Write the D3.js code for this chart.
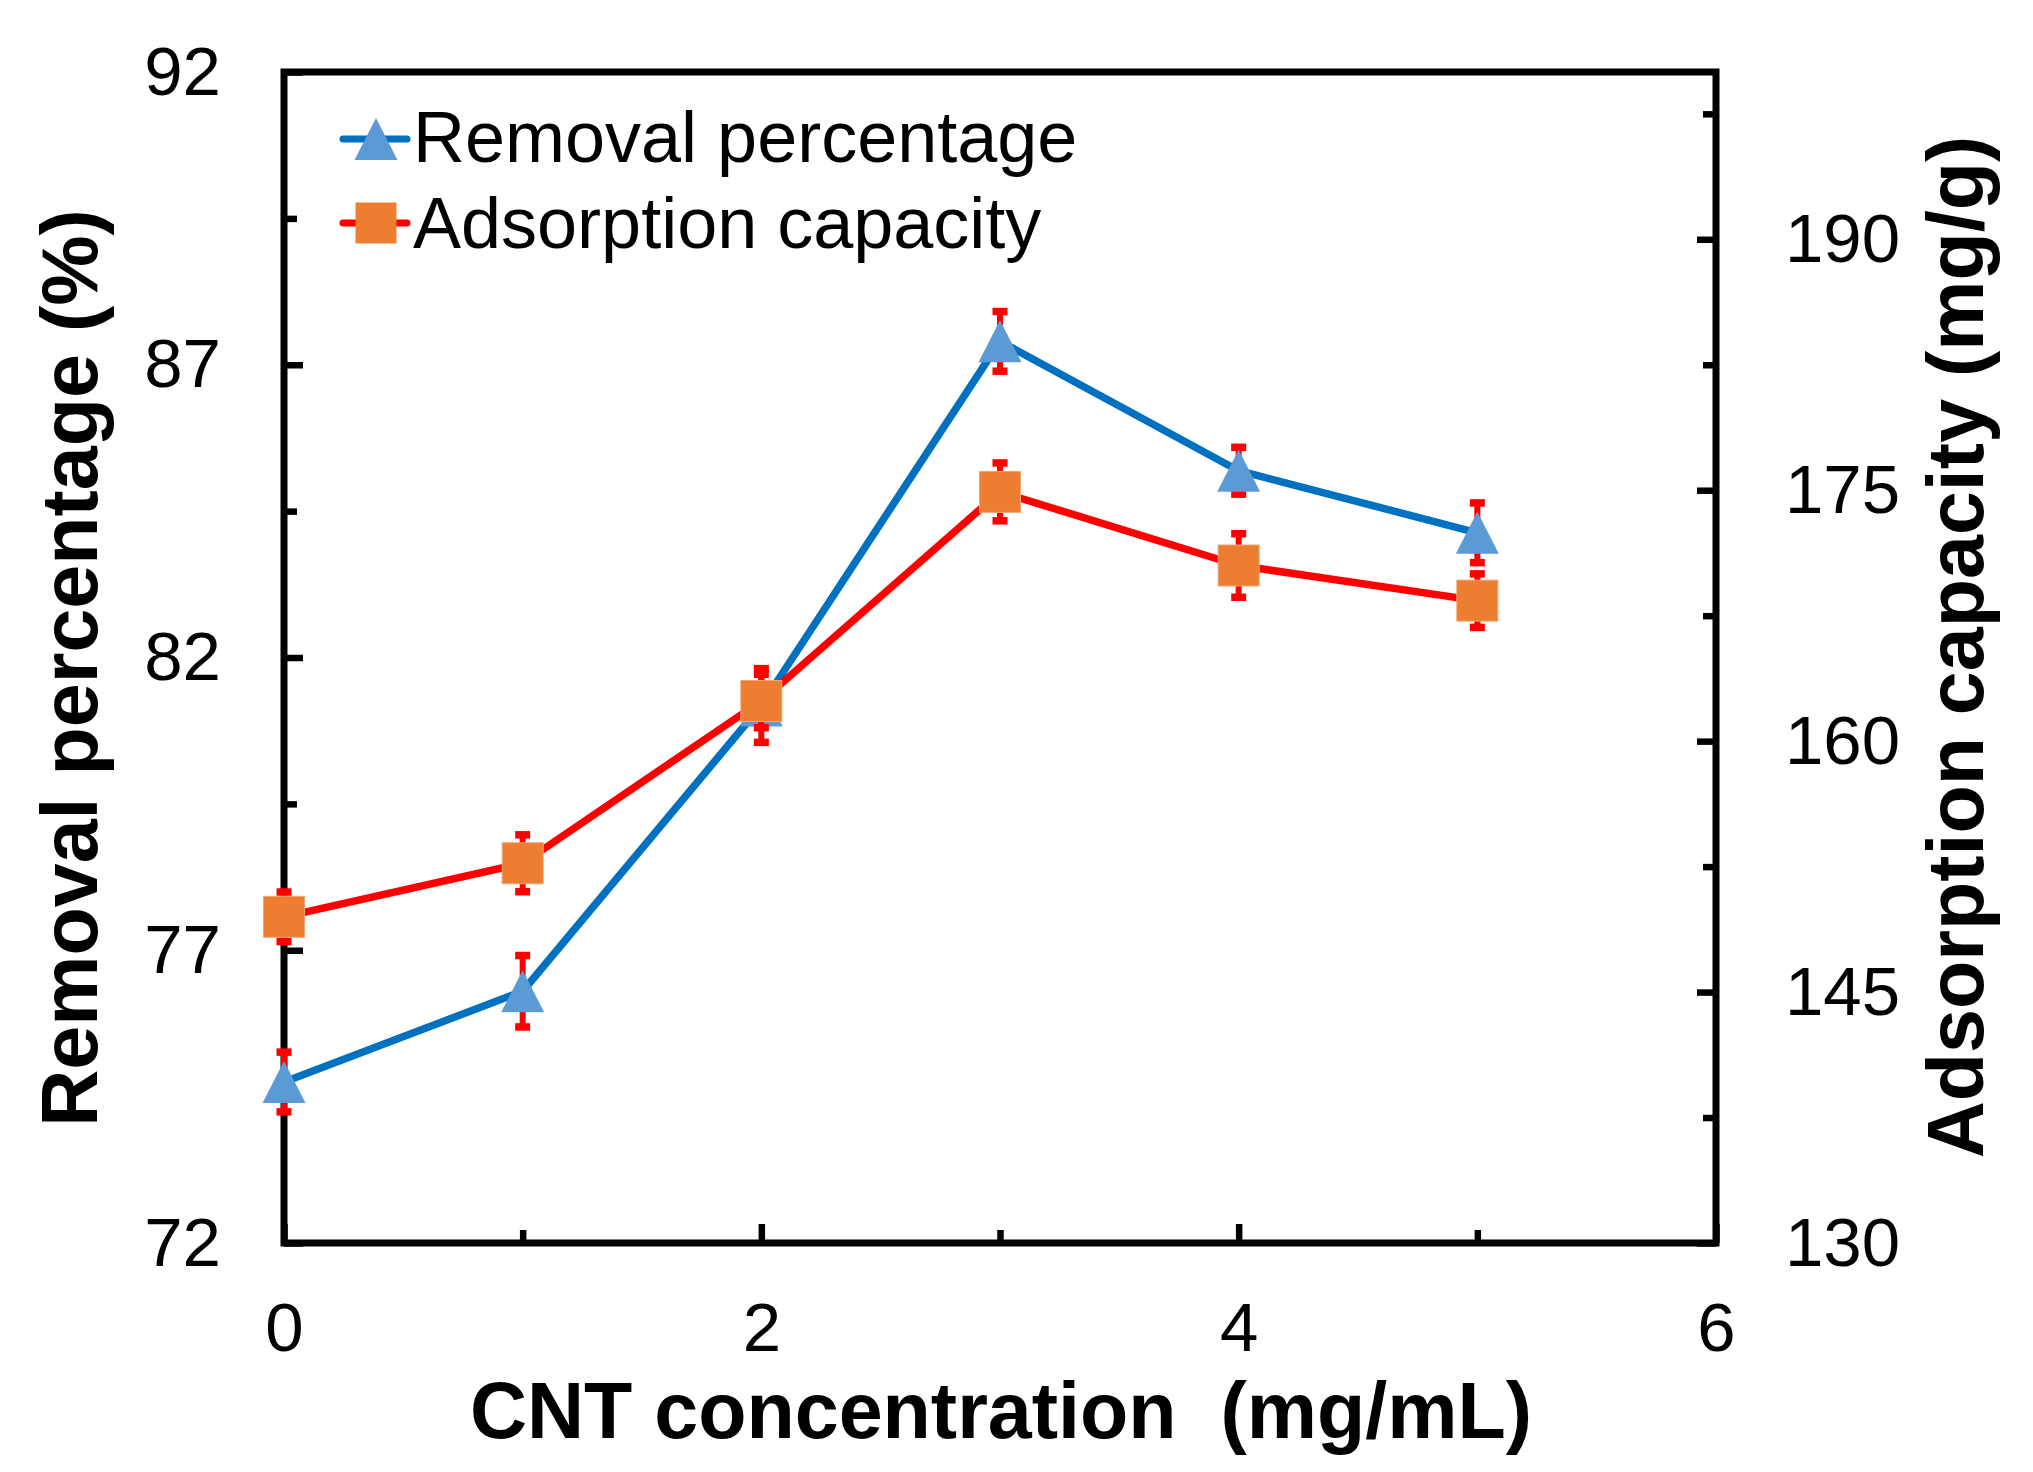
<!DOCTYPE html>
<html>
<head>
<meta charset="utf-8">
<script src="https://cdn.jsdelivr.net/npm/d3@7"></script>
<style>
  html, body { margin: 0; padding: 0; background: #fff; }
  svg { display: block; font-family: "Liberation Sans", Arial, sans-serif; }
</style>
</head>
<body>
<svg id="chart" width="2033" height="1472"></svg>
<script>
// ---- data ----
const concentration = [0, 1, 2, 3, 4, 5];
const removalPct = [74.75, 76.30, 81.18, 87.40, 85.19, 84.13];
const removalErr = [0.51, 0.61, 0.63, 0.51, 0.40, 0.51];
const adsorptionCap = [149.5, 152.7, 162.4, 174.9, 170.5, 168.4];
const adsorptionErr = [1.48, 1.70, 1.60, 1.73, 1.90, 1.60];

const xMajorTicks = [0, 2, 4, 6];
const xMinorTicks = [1, 3, 5];
const yLeftMajor = [72, 77, 82, 87, 92];
const yLeftMinor = [74.5, 79.5, 84.5, 89.5];
const yRightMajor = [130, 145, 160, 175, 190];
const yRightMinor = [137.5, 152.5, 167.5, 182.5, 197.5];

const seriesNames = ["Removal percentage", "Adsorption capacity"];
const xTitle = "CNT concentration\u00A0\u00A0(mg/mL)";
const yLeftTitle = "Removal percentage (%)";
const yRightTitle = "Adsorption capacity (mg/g)";

// ---- layout ----
const L = 284, R = 1716, T = 72, B = 1243;
const svg = d3.select("#chart");

const x = d3.scaleLinear().domain([0, 6]).range([L, R]);
const yL = d3.scaleLinear().domain([72, 92]).range([B, T]);
const yR = d3.scaleLinear().domain([130, 200]).range([B, T]);

const blueLine = "#0070C0", blueMarker = "#5B9BD5";
const redLine = "#FF0000", orangeMarker = "#ED7D31";

function styleAxis(g, fontSize) {
  g.select(".domain").remove();
  g.selectAll(".tick line").attr("stroke", "#000").attr("stroke-width", 6.5);
  g.selectAll(".tick text").attr("fill", "#000").style("font-size", fontSize + "px")
    .style("font-family", '"Liberation Sans", Arial, sans-serif');
}

// bottom axis
svg.append("g").attr("transform", `translate(0,${B})`)
  .call(d3.axisBottom(x).tickValues(xMajorTicks).tickSizeInner(-19).tickSizeOuter(0).tickPadding(59).tickFormat(d3.format("d")))
  .call(g => styleAxis(g, 69));
svg.append("g").attr("transform", `translate(0,${B})`)
  .call(d3.axisBottom(x).tickValues(xMinorTicks).tickSizeInner(-13).tickSizeOuter(0).tickFormat(""))
  .call(g => styleAxis(g, 69));

// left axis
svg.append("g").attr("transform", `translate(${L},0)`)
  .call(d3.axisLeft(yL).tickValues(yLeftMajor).tickSizeInner(-19).tickSizeOuter(0).tickPadding(63).tickFormat(d3.format("d")))
  .call(g => styleAxis(g, 69));
svg.append("g").attr("transform", `translate(${L},0)`)
  .call(d3.axisLeft(yL).tickValues(yLeftMinor).tickSizeInner(-13).tickSizeOuter(0).tickFormat(""))
  .call(g => styleAxis(g, 69));

// right axis
svg.append("g").attr("transform", `translate(${R},0)`)
  .call(d3.axisRight(yR).tickValues(yRightMajor).tickSizeInner(-19).tickSizeOuter(0).tickPadding(69).tickFormat(d3.format("d")))
  .call(g => styleAxis(g, 69));
svg.append("g").attr("transform", `translate(${R},0)`)
  .call(d3.axisRight(yR).tickValues(yRightMinor).tickSizeInner(-13).tickSizeOuter(0).tickFormat(""))
  .call(g => styleAxis(g, 69));

// frame
svg.append("rect").attr("x", L).attr("y", T).attr("width", R - L).attr("height", B - T)
  .attr("fill", "none").attr("stroke", "#000").attr("stroke-width", 7);

// ---- series ----
const triW = 43, triH = 42, sq = 41;
const triPath = `M0,${-triH / 2}L${triW / 2},${triH / 2}L${-triW / 2},${triH / 2}Z`;

function drawSeries(vals, errs, yScale, lineColor, markerColor, shape) {
  const pts = concentration.map((c, i) => ({ c, v: vals[i], e: errs[i] }));
  const g = svg.append("g");
  g.append("path").datum(pts)
    .attr("d", d3.line().x(d => x(d.c)).y(d => yScale(d.v)))
    .attr("fill", "none").attr("stroke", lineColor).attr("stroke-width", 7.5)
    .attr("stroke-linejoin", "round");
  // error bars
  const eb = g.selectAll(".eb").data(pts).enter().append("g");
  eb.append("line")
    .attr("x1", d => x(d.c)).attr("x2", d => x(d.c))
    .attr("y1", d => yScale(d.v - d.e)).attr("y2", d => yScale(d.v + d.e))
    .attr("stroke", "#FF0000").attr("stroke-width", 6);
  eb.append("line")
    .attr("x1", d => x(d.c) - 7.5).attr("x2", d => x(d.c) + 7.5)
    .attr("y1", d => yScale(d.v + d.e)).attr("y2", d => yScale(d.v + d.e))
    .attr("stroke", "#FF0000").attr("stroke-width", 7.5);
  eb.append("line")
    .attr("x1", d => x(d.c) - 7.5).attr("x2", d => x(d.c) + 7.5)
    .attr("y1", d => yScale(d.v - d.e)).attr("y2", d => yScale(d.v - d.e))
    .attr("stroke", "#FF0000").attr("stroke-width", 7.5);
  // markers
  if (shape === "tri") {
    g.selectAll(".m").data(pts).enter().append("path")
      .attr("d", triPath)
      .attr("transform", d => `translate(${x(d.c)},${yScale(d.v)})`)
      .attr("fill", markerColor);
  } else {
    g.selectAll(".m").data(pts).enter().append("rect")
      .attr("x", d => x(d.c) - sq / 2).attr("y", d => yScale(d.v) - sq / 2)
      .attr("width", sq).attr("height", sq)
      .attr("fill", markerColor).attr("stroke", "#F4A470").attr("stroke-width", 1);
  }
}

drawSeries(removalPct, removalErr, yL, blueLine, blueMarker, "tri");
drawSeries(adsorptionCap, adsorptionErr, yR, redLine, orangeMarker, "sq");

// ---- legend ----
const leg = svg.append("g");
const legRows = [
  { name: seriesNames[0], y: 139, line: blueLine, marker: blueMarker, shape: "tri", base: 162 },
  { name: seriesNames[1], y: 223, line: redLine, marker: orangeMarker, shape: "sq", base: 248 }
];
legRows.forEach(r => {
  leg.append("line").attr("x1", 343).attr("x2", 407).attr("y1", r.y).attr("y2", r.y)
    .attr("stroke", r.line).attr("stroke-width", 7).attr("stroke-linecap", "round");
  if (r.shape === "tri") {
    leg.append("path").attr("d", triPath).attr("transform", `translate(376,${r.y})`).attr("fill", r.marker);
  } else {
    leg.append("rect").attr("x", 376 - sq / 2).attr("y", r.y - sq / 2).attr("width", sq).attr("height", sq)
      .attr("fill", r.marker);
  }
  leg.append("text").attr("x", 413).attr("y", r.base).text(r.name)
    .style("font-size", "72px").attr("fill", "#000");
});

// ---- axis titles ----
svg.append("text").attr("x", 1001).attr("y", 1438).attr("text-anchor", "middle")
  .style("font-size", "79px").style("font-weight", "bold").style("white-space", "pre")
  .text(xTitle);
svg.append("text").attr("transform", "translate(97,668) rotate(-90)").attr("text-anchor", "middle")
  .style("font-size", "79px").style("font-weight", "bold").text(yLeftTitle);
svg.append("text").attr("transform", "translate(1983,647) rotate(-90)").attr("text-anchor", "middle")
  .style("font-size", "79px").style("font-weight", "bold").text(yRightTitle);
</script>
</body>
</html>
